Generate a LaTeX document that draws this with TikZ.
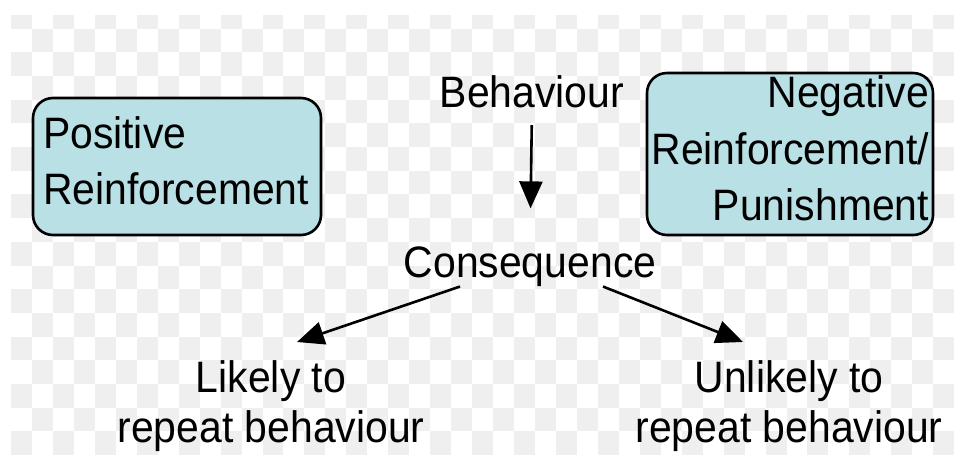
\documentclass[tikz,border=0pt]{standalone}
\usepackage{fontspec}
\setmainfont{Liberation Sans}[FakeStretch=0.93]
\usetikzlibrary{arrows.meta}
\definecolor{boxblue}{RGB}{185,224,228}
\definecolor{checkgray}{RGB}{239,239,239}

\begin{document}
\begin{tikzpicture}[x=0.5pt,y=-0.5pt,
  lbl/.style={inner sep=0pt, font=\fontsize{22pt}{25pt}\selectfont},
  rbox/.style={draw=black, line width=1.3pt, fill=boxblue, rounded corners=10pt,
    inner sep=0pt, font=\fontsize{22pt}{28.25pt}\selectfont},
  arr/.style={line width=1.3pt, -{Triangle[length=13.5pt,width=11.5pt]}}]
  \useasboundingbox (0,0) rectangle (957,455);
  \fill[white] (0,0) rectangle (957,455);
  \begin{scope}
    \clip (11,15) rectangle (957,455);
    \foreach \i in {0,...,44}
      \foreach \j in {0,...,18}{
        \pgfmathtruncatemacro\cellodd{mod(\i+\j,2)}
        \ifnum\cellodd=0
          \fill[checkgray] ({11+20.96*\i},{4.8+23.7*\j}) rectangle ++(20.96,23.7);
        \fi
      }
  \end{scope}

  \node[rbox, text width=134pt, align=left, minimum width=144pt, minimum height=68.5pt] (posr) at (177,166.5)
    {Positive\\Reinforcement\rule[-5.75pt]{0pt}{0pt}};
  \node[rbox, text width=139pt, align=right, minimum width=143pt, minimum height=81pt] (negr) at (790,154)
    {Negative\\Reinforcement/\\Punishment\rule[-5.75pt]{0pt}{0pt}};

  \node[lbl, anchor=base] (beh) at (532,107) {Behaviour};
  \node[lbl, anchor=base] (cons) at (530,277) {Consequence};
  \node[lbl, anchor=north, align=center] (likely) at (271,360.5) {Likely to\\repeat behaviour};
  \node[lbl, anchor=north, align=center] (unlikely) at (789,360.5) {Unlikely to\\repeat behaviour};

  \draw[arr, shorten <=8.65pt, shorten >=18.75pt] (beh.south) -- (cons.north);
  \draw[arr] ([xshift=-35pt]cons.south) -- ([xshift=13pt,yshift=9.25pt]likely.north);
  \draw[arr] ([xshift=36.5pt]cons.south) -- ([xshift=-23pt,yshift=9.25pt]unlikely.north);
\end{tikzpicture}
\end{document}
